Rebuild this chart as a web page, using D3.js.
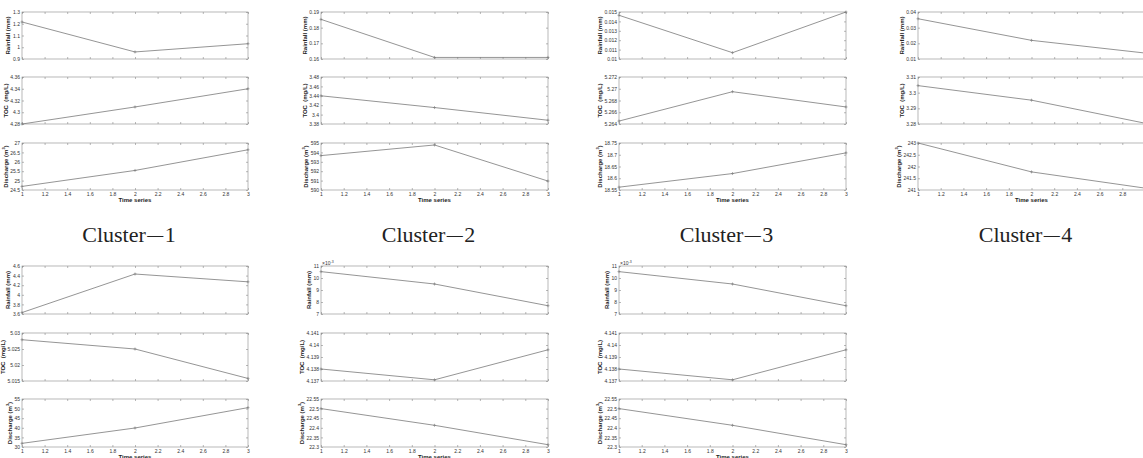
<!DOCTYPE html>
<html>
<head>
<meta charset="utf-8">
<title>Cluster time series</title>
<script src="https://d3js.org/d3.v7.min.js"></script>
<style>
body { margin: 0; background: #fff; }
svg { display: block; }
.tick text { font-family: "Liberation Sans", Arial, sans-serif; font-size: 5px; fill: #333; }
.tick line { stroke: #888; stroke-width: 0.6; }
.ylab, .xlab { font-family: "Liberation Sans", Arial, sans-serif; font-size: 6px; font-weight: bold; fill: #222; }
.cluster { font-family: "Liberation Serif", "DejaVu Serif", serif; font-size: 22px; fill: #222; }
</style>
</head>
<body>
<svg width="1143" height="458"></svg>
<script>
// data: one entry per cluster, values at time 1, 2, 3
var timeSeries = [1, 2, 3];
var xTicks = [1, 1.2, 1.4, 1.6, 1.8, 2, 2.2, 2.4, 2.6, 2.8, 3];
var clusterNames = ["1", "2", "3", "4", "", "", ""];

var rainfall = [
  [1.215, 0.96, 1.03],
  [0.1853, 0.161, 0.161],
  [0.01465, 0.01067, 0.015],
  [0.0357, 0.0219, 0.0138],
  [3.63, 4.433, 4.27],
  [0.01053, 0.0095, 0.00769],
  [0.01053, 0.0095, 0.00769]
];
var toc = [
  [4.28, 4.309, 4.34],
  [3.44, 3.415, 3.388],
  [5.2645, 5.2695, 5.2669],
  [3.3045, 3.2952, 3.2805],
  [5.0279, 5.025, 5.0158],
  [4.138, 4.1371, 4.1396],
  [4.138, 4.1371, 4.1396]
];
var discharge = [
  [24.69, 25.54, 26.64],
  [593.66, 594.79, 590.95],
  [18.562, 18.62, 18.708],
  [243, 241.77, 241.08],
  [31.9, 39.9, 50.5],
  [22.5, 22.413, 22.312],
  [22.5, 22.413, 22.312]
];

// y tick labels of each subplot
var rainfallTicks = [
  [0.9, 1, 1.1, 1.2, 1.3],
  [0.16, 0.17, 0.18, 0.19],
  [0.01, 0.011, 0.012, 0.013, 0.014, 0.015],
  [0.01, 0.02, 0.03, 0.04],
  [3.6, 3.8, 4, 4.2, 4.4, 4.6],
  [0.007, 0.008, 0.009, 0.010, 0.011],
  [0.007, 0.008, 0.009, 0.010, 0.011]
];
var rainfallExp = [0, 0, 0, 0, 0, -3, -3];
var tocTicks = [
  [4.28, 4.3, 4.32, 4.34, 4.36],
  [3.38, 3.4, 3.42, 3.44, 3.46, 3.48],
  [5.264, 5.266, 5.268, 5.27, 5.272],
  [3.28, 3.29, 3.3, 3.31],
  [5.015, 5.02, 5.025, 5.03],
  [4.137, 4.138, 4.139, 4.14, 4.141],
  [4.137, 4.138, 4.139, 4.14, 4.141]
];
var dischargeTicks = [
  [24.5, 25, 25.5, 26, 26.5, 27],
  [590, 591, 592, 593, 594, 595],
  [18.55, 18.6, 18.65, 18.7, 18.75],
  [241, 241.5, 242, 242.5, 243],
  [30, 35, 40, 45, 50, 55],
  [22.3, 22.35, 22.4, 22.45, 22.5, 22.55],
  [22.3, 22.35, 22.4, 22.45, 22.5, 22.55]
];

// layout
var W = 1143;
var panelX = [[22, 248], [321, 548], [619, 846], [918, 1145], [22, 248], [321, 548], [619, 846]];
var panelRow = [0, 0, 0, 0, 1, 1, 1];
var rowTops = [[12, 77, 143], [266, 333, 399]];
var rowH = [47, 48];

var svg = d3.select("svg");

function fmt(v, e) {
  var s = +(v / Math.pow(10, e)).toFixed(6);
  return String(s);
}

panelX.forEach(function (px, p) {
  var row = panelRow[p];
  var x = d3.scaleLinear().domain([1, 3]).range(px);
  var subs = [
    { data: rainfall[p], ticks: rainfallTicks[p], exp: rainfallExp[p], label: "rainfall" },
    { data: toc[p], ticks: tocTicks[p], exp: 0, label: "toc" },
    { data: discharge[p], ticks: dischargeTicks[p], exp: 0, label: "discharge" }
  ];

  subs.forEach(function (s, k) {
    var top = rowTops[row][k], bot = top + rowH[row];
    var t = s.ticks;
    var y = d3.scaleLinear().domain([t[0], t[t.length - 1]]).range([bot, top]);
    var g = svg.append("g");

    g.append("rect")
      .attr("x", px[0]).attr("y", top)
      .attr("width", px[1] - px[0]).attr("height", bot - top)
      .attr("fill", "#fff").attr("stroke", "#9a9a9a").attr("stroke-width", 0.7);

    var left = g.append("g").attr("transform", "translate(" + px[0] + ",0)")
      .call(d3.axisLeft(y).tickValues(t).tickSizeInner(-2).tickSizeOuter(0).tickPadding(2)
        .tickFormat(function (d) { return fmt(d, s.exp); }));
    g.append("g").attr("transform", "translate(" + px[1] + ",0)")
      .call(d3.axisRight(y).tickValues(t).tickSizeInner(-2).tickSizeOuter(0).tickFormat(""));
    g.append("g").attr("transform", "translate(0," + top + ")")
      .call(d3.axisTop(x).tickValues(xTicks).tickSizeInner(-2).tickSizeOuter(0).tickFormat(""));
    g.append("g").attr("transform", "translate(0," + bot + ")")
      .call(d3.axisBottom(x).tickValues(xTicks).tickSizeInner(-2).tickSizeOuter(0).tickPadding(2.5)
        .tickFormat(function (d) {
          // labels only under the lowest subplot, and only where they fit in the window
          return (k === 2 && x(d) < W - 4) ? fmt(d, 0) : "";
        }));
    g.selectAll(".domain").remove();

    // y label, kept clear of the tick labels
    var w = 0;
    left.selectAll("text").each(function () { w = Math.max(w, this.getBBox().width); });
    var lx = px[0] - w - 4.5, ly = (top + bot) / 2;
    var lab = g.append("text").attr("class", "ylab")
      .attr("transform", "translate(" + lx + "," + ly + ") rotate(-90)")
      .attr("text-anchor", "middle");
    if (s.label === "rainfall") lab.text("Rainfall (mm)");
    else if (s.label === "toc") lab.text("TOC\u00A0\u00A0(mg/L)");
    else {
      lab.append("tspan").text("Discharge (m");
      lab.append("tspan").attr("dy", -2.5).style("font-size", "4px").text("3");
      lab.append("tspan").attr("dy", 2.5).text(")");
    }

    if (s.exp !== 0) {
      var ex = g.append("text").attr("x", px[0] + 1).attr("y", top - 1.5)
        .style("font-family", "Liberation Sans, Arial, sans-serif").attr("fill", "#333");
      ex.append("tspan").style("font-size", "5px").text("\u00D710");
      ex.append("tspan").attr("dy", -2).style("font-size", "3.5px").text(String(s.exp));
    }

    var line = d3.line().x(function (d, i) { return x(timeSeries[i]); }).y(function (d) { return y(d); });
    g.append("path").datum(s.data)
      .attr("d", line).attr("fill", "none").attr("stroke", "#7a7a7a").attr("stroke-width", 0.8);

    g.selectAll(".mk").data(s.data).enter().append("path")
      .attr("d", function (d, i) {
        var cx = x(timeSeries[i]), cy = y(d);
        return "M" + (cx - 1.5) + "," + cy + "H" + (cx + 1.5) + "M" + cx + "," + (cy - 1.5) + "V" + (cy + 1.5);
      })
      .attr("stroke", "#7a7a7a").attr("stroke-width", 0.6);

    if (k === 2) {
      g.append("text").attr("class", "xlab")
        .attr("x", (px[0] + px[1]) / 2).attr("y", bot + 11.5)
        .attr("text-anchor", "middle").text("Time series");
    }
  });

  if (clusterNames[p]) {
    var c = svg.append("text").attr("class", "cluster")
      .attr("x", (px[0] + px[1]) / 2 - 6).attr("y", rowTops[row][2] + rowH[row] + 51.5)
      .attr("text-anchor", "middle");
    c.append("tspan").text("Cluster");
    c.append("tspan").attr("dx", 1.5).attr("dy", -1.5).style("font-size", "16px").text("\u2014");
    c.append("tspan").attr("dx", 1.5).attr("dy", 1.5).text(clusterNames[p]);
  }
});
</script>
</body>
</html>
